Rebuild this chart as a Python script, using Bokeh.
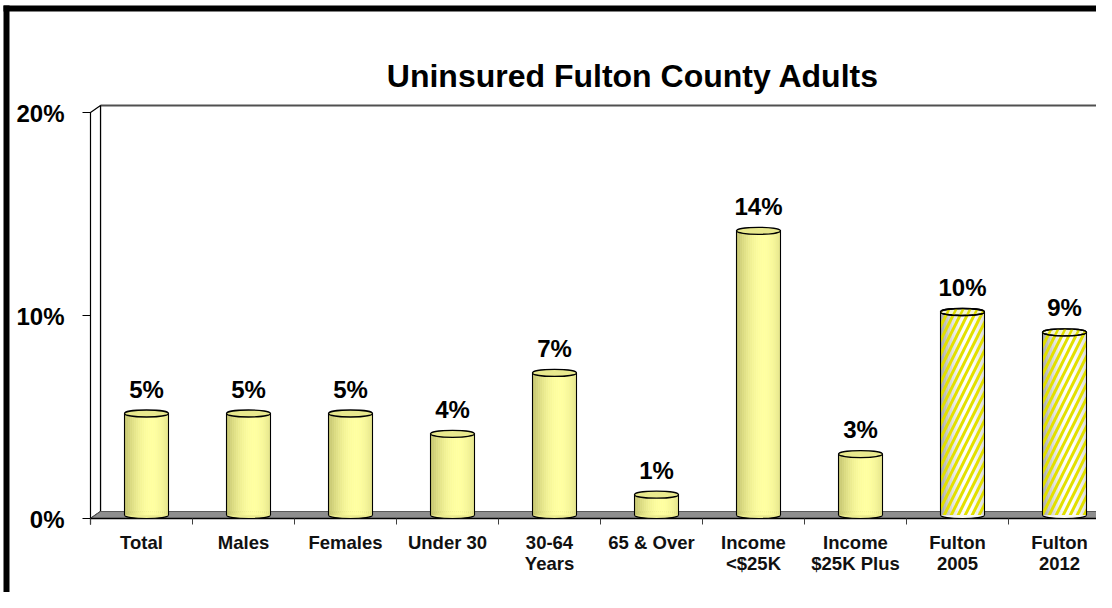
import numpy as np
from bokeh.plotting import figure
from bokeh.models import Range1d
from bokeh.core.properties import value
from bokeh.embed import file_html
from bokeh.resources import INLINE

# ---------------- data ----------------
categories = ["Total", "Males", "Females", "Under 30", "30-64\nYears", "65 & Over",
              "Income\n<$25K", "Income\n$25K Plus", "Fulton\n2005", "Fulton\n2012"]
values = [5, 5, 5, 4, 7, 1, 14, 3, 10, 9]
hatched = [False, False, False, False, False, False, False, False, True, True]
y_ticks = [0, 10, 20]
y_tick_labels = ["0%", "10%", "20%"]
title_text = "Uninsured Fulton County Adults"

# ---------------- geometry ----------------
W, H = 1096, 592
PXX = 102.0      # pixels per category
PXY = 20.3       # pixels per percent
LEFT_PX = 90
BOTTOM_PX = H - 518
n = len(categories)
ymax = 20
DX = 10 / PXX    # depth offset
DY = 7 / PXY
HW = 22 / PXX    # cylinder half width
FONT = value("Liberation Sans")

x0, x1 = -LEFT_PX / PXX, (W - LEFT_PX) / PXX
y0, y1 = -BOTTOM_PX / PXY, (H - BOTTOM_PX) / PXY

p = figure(width=W, height=H, x_range=Range1d(x0, x1), y_range=Range1d(y0, y1),
           x_axis_type=None, y_axis_type=None, output_backend="svg",
           toolbar_location=None, min_border=0)
p.grid.visible = False
p.outline_line_color = None
p.background_fill_color = "white"
p.border_fill_color = "white"

# ---------------- 3D walls ----------------
p.quad(left=DX, right=n + DX, bottom=DY, top=ymax + DY, fill_color="white", line_color=None)
p.line([DX, n + DX], [ymax + DY, ymax + DY], line_color="#505050", line_width=2)
p.line([DX, DX], [DY, ymax + DY], line_color="black", line_width=1.2)
p.patch([0, 0, DX, DX], [0, ymax, ymax + DY, DY], fill_color="white",
        line_color="black", line_width=1.2)
p.patch([0, n, n + DX, DX], [0, 0, DY, DY], fill_color="#8e8e8e",
        line_color="#5a5a5a", line_width=1)
p.line([0, n], [0, 0], line_color="black", line_width=1.6)

# ticks
p.segment(x0=[-8 / PXX] * len(y_ticks), y0=y_ticks, x1=[0] * len(y_ticks), y1=y_ticks,
          line_color="black", line_width=1.2)
p.segment(x0=[0], y0=[0], x1=[0], y1=[-6 / PXY], line_color="black", line_width=1.2)
xt = list(range(n + 1))
p.segment(x0=xt, y0=[0] * len(xt), x1=xt, y1=[-6 / PXY] * len(xt),
          line_color="#404040", line_width=1)

# ---------------- cylinders ----------------
def lerp(c0, c1, s):
    return "#%02x%02x%02x" % tuple(int(round(a + (b - a) * s)) for a, b in zip(c0, c1))

NS = 22
cx = [i + 0.5 + DX / 2 for i in range(n)]
sl, sr, st, sc = [], [], [], []
for i, v in enumerate(values):
    if hatched[i]:
        dark, light = (160, 160, 155), (255, 255, 255)
    else:
        dark, light = (190, 190, 105), (255, 255, 160)
    for k in range(NS):
        t = (k + 0.5) / NS
        s = max(0.0, np.cos((t - 0.62) * np.pi / 1.3))
        sl.append(cx[i] - HW + 2 * HW * k / NS)
        sr.append(cx[i] - HW + 2 * HW * (k + 1) / NS)
        st.append(v + DY / 2)
        sc.append(lerp(dark, light, s))

base_fill = ["#f8f8f0" if h else "#ecec90" for h in hatched]
p.ellipse(x=cx, y=[DY / 2] * n, width=44, height=7, width_units="screen",
          height_units="screen", fill_color=base_fill, line_color="black", line_width=1.2)
p.quad(left=sl, right=sr, bottom=[DY / 2] * len(sl), top=st, fill_color=sc,
       line_color=sc, line_width=0.6)

hx = [cx[i] for i in range(n) if hatched[i]]
hv = [values[i] for i in range(n) if hatched[i]]
p.quad(left=[x - HW for x in hx], right=[x + HW for x in hx], bottom=[DY / 2] * len(hx),
       top=[v + DY / 2 for v in hv], fill_alpha=0, line_color=None,
       hatch_pattern="/", hatch_color="#e2e000", hatch_weight=3, hatch_scale=14)

p.segment(x0=[x - HW for x in cx], y0=[DY / 2] * n, x1=[x - HW for x in cx],
          y1=[v + DY / 2 for v in values], line_color="black", line_width=1.1)
p.segment(x0=[x + HW for x in cx], y0=[DY / 2] * n, x1=[x + HW for x in cx],
          y1=[v + DY / 2 for v in values], line_color="black", line_width=1.1)

top_fill = ["#f4f4d8" if h else "#e9e98e" for h in hatched]
p.ellipse(x=cx, y=[v + DY / 2 for v in values], width=44, height=7, width_units="screen",
          height_units="screen", fill_color=top_fill, line_color="black", line_width=1.3)
p.ellipse(x=hx, y=[v + DY / 2 for v in hv], width=44, height=7, width_units="screen",
          height_units="screen", fill_alpha=0, line_color="black", line_width=1.3,
          hatch_pattern="/", hatch_color="#e2e000", hatch_weight=2.5, hatch_scale=14)

# ---------------- texts ----------------
p.text(x=cx, y=values, text=[f"{v}%" for v in values], text_align="center",
       text_baseline="middle", y_offset=-28, text_font=FONT, text_font_style="bold",
       text_font_size="24px", text_color="black")

line1 = [c.split("\n")[0] for c in categories]
line2 = [c.split("\n")[1] if "\n" in c else "" for c in categories]
catx = [i + 0.5 for i in range(n)]
p.text(x=catx, y=[0] * n, text=line1, text_align="center", text_baseline="middle",
       y_offset=24, text_font=FONT, text_font_style="bold", text_font_size="18.5px",
       text_color="#111111")
p.text(x=catx, y=[0] * n, text=line2, text_align="center", text_baseline="middle",
       y_offset=45, text_font=FONT, text_font_style="bold", text_font_size="18.5px",
       text_color="#111111")

p.text(x=[-26 / PXX] * len(y_ticks), y=y_ticks, text=y_tick_labels, text_align="right",
       text_baseline="middle", y_offset=1, text_font=FONT, text_font_style="bold",
       text_font_size="24px", text_color="black")

p.text(x=[(632.5 - 90) / PXX], y=[(518 - 75) / PXY], text=[title_text], text_align="center",
       text_baseline="middle", text_font=FONT, text_font_style="bold",
       text_font_size="32px", text_color="black")

# ---------------- outer border ----------------
p.line([x0 + 3 / PXX, x1], [y1 - 8 / PXY] * 2, line_color="black", line_width=6)
p.line([x0 + 6 / PXX] * 2, [y0, y1 - 5 / PXY], line_color="black", line_width=6)

open("out.html", "w").write(file_html(p, INLINE))
